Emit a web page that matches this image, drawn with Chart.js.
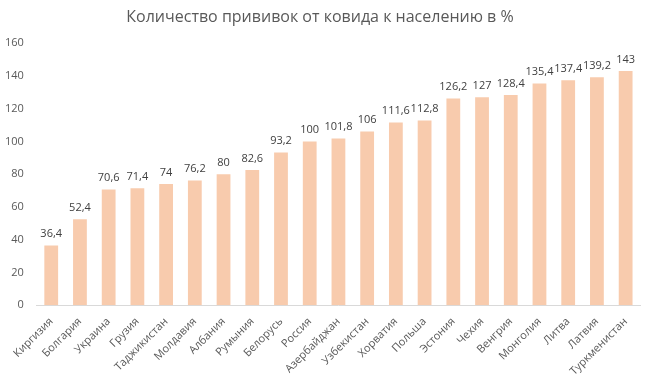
<!DOCTYPE html>
<html>
<head>
<meta charset="utf-8">
<script src="https://cdn.jsdelivr.net/npm/chart.js@4"></script>
<style>
  html, body { margin: 0; padding: 0; background: #fff; }
  #wrap { width: 650px; height: 382px; position: relative; }
</style>
</head>
<body>
<div id="wrap"><canvas id="vaxChart"></canvas></div>
<script>
const countries = ['Киргизия', 'Болгария', 'Украина', 'Грузия', 'Таджикистан', 'Молдавия', 'Албания', 'Румыния',
    'Белорусь', 'Россия', 'Азербайджан', 'Узбекистан', 'Хорватия', 'Польша', 'Эстония', 'Чехия', 'Венгрия',
    'Монголия', 'Литва', 'Латвия', 'Туркменистан'];
const doses = [36.4, 52.4, 70.6, 71.4, 74, 76.2, 80, 82.6, 93.2, 100, 101.8, 106, 111.6, 112.8, 126.2, 127, 128.4,
    135.4, 137.4, 139.2, 143];
const yTicks = [0, 20, 40, 60, 80, 100, 120, 140, 160];

const fmt = (v) => String(v).replace('.', ',');

// подписи значений над столбиками
const valueLabels = {
    id: 'valueLabels',
    afterDatasetsDraw(chart) {
        const ctx = chart.ctx;
        const meta = chart.getDatasetMeta(0);
        ctx.save();
        ctx.font = '11px "Open Sans", sans-serif';
        ctx.fillStyle = '#404040';
        ctx.textAlign = 'center';
        ctx.textBaseline = 'bottom';
        meta.data.forEach((bar, i) => {
            ctx.fillText(fmt(doses[i]), bar.x, bar.y - 6);
        });
        ctx.restore();
    }
};

new Chart(document.getElementById('vaxChart'), {
    type: 'bar',
    data: {
        labels: countries,
        datasets: [{
            data: doses,
            backgroundColor: '#F8CBAD',
            categoryPercentage: 1,
            barPercentage: 0.48
        }]
    },
    options: {
        responsive: true,
        maintainAspectRatio: false,
        animation: false,
        layout: { padding: { left: 0, right: 10, top: 0, bottom: 2 } },
        plugins: {
            legend: { display: false },
            tooltip: { enabled: false },
            title: {
                display: true,
                text: 'Количество прививок от ковида к населению в %',
                color: '#595959',
                font: { family: '"Open Sans", sans-serif', size: 16, weight: 'normal' },
                padding: { top: 8, bottom: 16 }
            }
        },
        scales: {
            x: {
                grid: { display: false },
                border: { color: '#d9d9d9' },
                ticks: {
                    color: '#595959',
                    font: { family: '"Open Sans", sans-serif', size: 11 },
                    minRotation: 45,
                    maxRotation: 45,
                    autoSkip: false,
                    padding: 2
                }
            },
            y: {
                min: 0,
                max: 160,
                grid: { display: false },
                border: { display: false },
                afterBuildTicks(axis) {
                    axis.ticks = yTicks.map(v => ({ value: v }));
                },
                ticks: {
                    color: '#595959',
                    font: { family: '"Open Sans", sans-serif', size: 11 },
                    padding: 5
                }
            }
        }
    },
    plugins: [valueLabels]
});
</script>
</body>
</html>
